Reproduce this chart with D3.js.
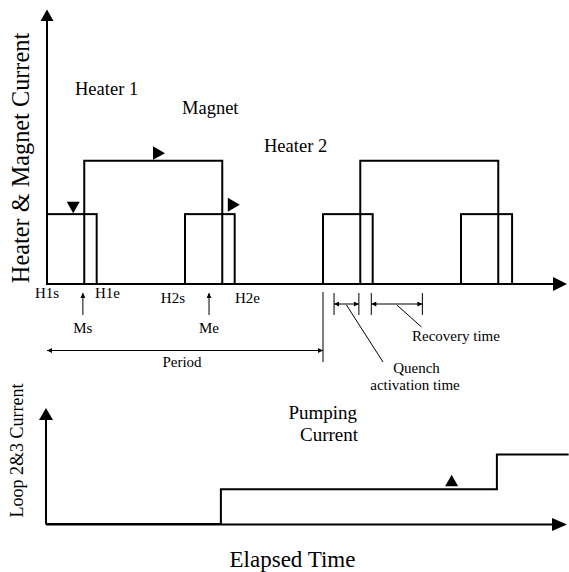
<!DOCTYPE html>
<html>
<head>
<meta charset="utf-8">
<script src="https://cdn.jsdelivr.net/npm/d3@7"></script>
<style>
  body { margin: 0; background: #fff; }
  text { font-family: "Liberation Serif", "Times New Roman", serif; fill: #000; }
</style>
</head>
<body>
<script>
const w = 569;
const h = 572;

// time is in arbitrary units, one operating period = 10
const heaterPulses = [
  { start: 0, end: 1.8 },
  { start: 5, end: 6.8 },
  { start: 10, end: 11.8 },
  { start: 15, end: 16.85 }
];
const magnetPulses = [
  { start: 1.35, end: 6.35 },
  { start: 11.35, end: 16.35 }
];
const heaterLevel = 2.55;
const magnetLevel = 4.5;

// loop 2&3 pumping current, step after each magnet pulse ends
const pumpingSteps = [
  { t: 0, v: 0 },
  { t: 6.3, v: 1.2 },
  { t: 16.3, v: 2.4 },
  { t: 18.9, v: 2.4 }
];

// labels under the time axis
const edgeLabels = ["H1s", "H1e", "H2s", "H2e"];
const edgeTimes = [0, 1.74, 5.0, 6.81];
const markLabels = ["Ms", "Me"];
const markTimes = [1.3, 5.87];
const periodSpan = [0, 10];
const quenchSpan = [10.4, 11.3];
const recoverySpan = [11.75, 13.6];

const svg = d3.select("body").append("svg").attr("width", w).attr("height", h);

const xScale = d3.scaleLinear().domain([0, 18.84]).range([47, 567]);
const yTop = d3.scaleLinear().domain([0, 10]).range([284, 10]);
const yBot = d3.scaleLinear().domain([0, 4]).range([524, 408]);

const defs = svg.append("defs");
// small arrowheads for the thin annotation lines
defs.append("marker")
  .attr("id", "head")
  .attr("viewBox", "0 0 10 10")
  .attr("refX", 10).attr("refY", 5)
  .attr("markerWidth", 6).attr("markerHeight", 5)
  .attr("markerUnits", "userSpaceOnUse")
  .attr("orient", "auto-start-reverse")
  .append("path").attr("d", "M0,0L10,5L0,10Z").attr("fill", "#000");

function tri(points) {
  return "M" + points.map((p) => p.join(",")).join("L") + "Z";
}

// ---------- top panel: heater & magnet current ----------
const upper = svg.append("g");
const x0 = xScale(0);
const base = yTop(0);

// axes
upper.append("line").attr("x1", x0).attr("y1", base).attr("x2", x0).attr("y2", yTop(9.6))
  .attr("stroke", "#000").attr("stroke-width", 2);
upper.append("path").attr("d", tri([[x0 - 6.5, 21], [x0 + 6.5, 21], [x0, yTop(10) - 0.5]]));
upper.append("line").attr("x1", x0).attr("y1", base).attr("x2", 554).attr("y2", base)
  .attr("stroke", "#000").attr("stroke-width", 2);
upper.append("path").attr("d", tri([[553, base - 7], [553, base + 7], [xScale(18.84), base]]));

// heater pulses
upper.selectAll("rect.heater")
  .data(heaterPulses)
  .enter()
  .append("rect")
  .attr("class", "heater")
  .attr("x", (d) => xScale(d.start))
  .attr("y", yTop(heaterLevel))
  .attr("width", (d) => xScale(d.end) - xScale(d.start))
  .attr("height", base - yTop(heaterLevel))
  .attr("fill", "none")
  .attr("stroke", "#000")
  .attr("stroke-width", 2);

// magnet pulses
upper.selectAll("path.magnet")
  .data(magnetPulses)
  .enter()
  .append("path")
  .attr("class", "magnet")
  .attr("d", (d) =>
    d3.line()([
      [xScale(d.start), base],
      [xScale(d.start), yTop(magnetLevel)],
      [xScale(d.end), yTop(magnetLevel)],
      [xScale(d.end), base]
    ])
  )
  .attr("fill", "none")
  .attr("stroke", "#000")
  .attr("stroke-width", 2);

// direction markers
const hy = yTop(heaterLevel);
const my = yTop(magnetLevel);
upper.append("path").attr("d", tri([[xScale(0.95) - 6.5, hy - 12.5], [xScale(0.95) + 6.5, hy - 12.5], [xScale(0.95), hy - 1]]));
upper.append("path").attr("d", tri([[xScale(3.84), my - 14.5], [xScale(3.84), my - 1], [xScale(3.84) + 12, my - 7.5]]));
upper.append("path").attr("d", tri([[xScale(6.55), hy - 16.5], [xScale(6.55), hy - 2.5], [xScale(6.55) + 12, hy - 9.5]]));

// panel text
upper.append("text").attr("x", 75).attr("y", 95).style("font-size", "18.5px").text("Heater 1");
upper.append("text").attr("x", 182).attr("y", 114).style("font-size", "18.5px").text("Magnet");
upper.append("text").attr("x", 264).attr("y", 152).style("font-size", "18.5px").text("Heater 2");
upper.append("text")
  .attr("transform", "translate(29,158) rotate(-90)")
  .attr("text-anchor", "middle")
  .style("font-size", "24.3px")
  .text("Heater & Magnet Current");

// edge labels
const edgeAnchor = ["middle", "start", "end", "start"];
const edgeBase = [298, 298, 303, 303];
upper.selectAll("text.edge")
  .data(edgeLabels)
  .enter()
  .append("text")
  .attr("class", "edge")
  .attr("x", (d, i) => xScale(edgeTimes[i]))
  .attr("y", (d, i) => edgeBase[i])
  .attr("text-anchor", (d, i) => edgeAnchor[i])
  .style("font-size", "15px")
  .text((d) => d);

// magnet start / end arrows
markLabels.forEach((d, i) => {
  const mx = xScale(markTimes[i]);
  upper.append("line").attr("x1", mx).attr("y1", 315).attr("x2", mx).attr("y2", 293)
    .attr("stroke", "#000").attr("stroke-width", 1).attr("marker-end", "url(#head)");
  upper.append("text").attr("x", mx).attr("y", 333).attr("text-anchor", "middle")
    .style("font-size", "15px").text(d);
});

// period
const pa = xScale(periodSpan[0]);
const pb = xScale(periodSpan[1]);
upper.append("line").attr("x1", pa).attr("y1", 350.5).attr("x2", pb).attr("y2", 350.5)
  .attr("stroke", "#000").attr("stroke-width", 1)
  .attr("marker-start", "url(#head)").attr("marker-end", "url(#head)");
upper.append("line").attr("x1", pb).attr("y1", 292).attr("x2", pb).attr("y2", 362)
  .attr("stroke", "#000").attr("stroke-width", 1);
upper.append("text").attr("x", (pa + pb) / 2 - 3).attr("y", 367).attr("text-anchor", "middle")
  .style("font-size", "15px").text("Period");

// quench and recovery spans
function span(s) {
  const a = xScale(s[0]);
  const b = xScale(s[1]);
  [a, b].forEach((x) =>
    upper.append("line").attr("x1", x).attr("y1", 293).attr("x2", x).attr("y2", 315)
      .attr("stroke", "#000").attr("stroke-width", 1)
  );
  upper.append("line").attr("x1", a).attr("y1", 304).attr("x2", b).attr("y2", 304)
    .attr("stroke", "#000").attr("stroke-width", 1)
    .attr("marker-start", "url(#head)").attr("marker-end", "url(#head)");
  return (a + b) / 2;
}
const qm = span(quenchSpan);
const rm = span(recoverySpan);
upper.append("line").attr("x1", qm).attr("y1", 305).attr("x2", 383).attr("y2", 362)
  .attr("stroke", "#000").attr("stroke-width", 1);
upper.append("line").attr("x1", rm).attr("y1", 305).attr("x2", 421.5).attr("y2", 327)
  .attr("stroke", "#000").attr("stroke-width", 1);
upper.append("text").attr("x", 456).attr("y", 341).attr("text-anchor", "middle")
  .style("font-size", "15px").text("Recovery time");
upper.append("text").attr("x", 416.5).attr("y", 373).attr("text-anchor", "middle")
  .style("font-size", "15px").text("Quench");
upper.append("text").attr("x", 415).attr("y", 390).attr("text-anchor", "middle")
  .style("font-size", "15px").text("activation time");

// ---------- bottom panel: loop 2&3 current ----------
const lower = svg.append("g");
const bx = xScale(0) - 1;
const bb = yBot(0) + 0.5;

lower.append("line").attr("x1", bx).attr("y1", bb).attr("x2", bx).attr("y2", 419)
  .attr("stroke", "#000").attr("stroke-width", 2);
lower.append("path").attr("d", tri([[bx - 7, 420], [bx + 7, 420], [bx, yBot(4)]]));
lower.append("line").attr("x1", bx).attr("y1", bb).attr("x2", 553).attr("y2", bb)
  .attr("stroke", "#000").attr("stroke-width", 2);
lower.append("path").attr("d", tri([[552, bb - 6.5], [552, bb + 6.5], [xScale(18.84), bb]]));

const pumpLine = d3.line()
  .x((d) => xScale(d.t))
  .y((d) => yBot(d.v))
  .curve(d3.curveStepAfter);
lower.append("path")
  .datum(pumpingSteps)
  .attr("d", pumpLine)
  .attr("fill", "none")
  .attr("stroke", "#000")
  .attr("stroke-width", 2);

const ty = yBot(pumpingSteps[1].v);
lower.append("path").attr("d", tri([[xScale(14.66) - 6.5, ty - 3], [xScale(14.66) + 6.5, ty - 3], [xScale(14.66), ty - 14.5]]));

lower.append("text").attr("x", 288.5).attr("y", 419).style("font-size", "19px").text("Pumping");
lower.append("text").attr("x", 300).attr("y", 441).style("font-size", "19px").text("Current");
lower.append("text")
  .attr("transform", "translate(23,450.5) rotate(-90)")
  .attr("text-anchor", "middle")
  .style("font-size", "18px")
  .text("Loop 2&3 Current");

svg.append("text").attr("x", 292.5).attr("y", 567).attr("text-anchor", "middle")
  .style("font-size", "23px").text("Elapsed Time");
</script>
</body>
</html>
